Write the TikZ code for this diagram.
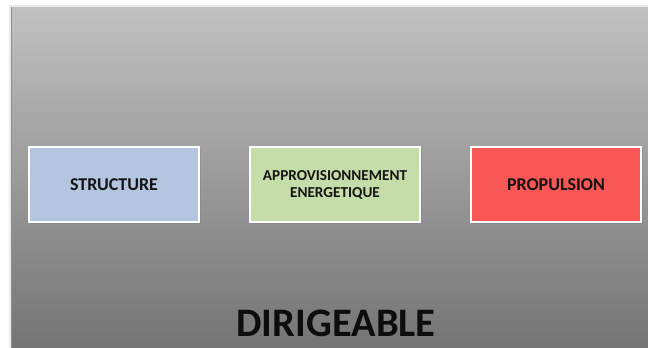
\documentclass[tikz,border=0pt]{standalone}
\usepackage{fontspec}
\setmainfont{Carlito}
\usetikzlibrary{shadows}
\begin{document}
\begin{tikzpicture}[x=1pt,y=-1pt,
  block/.style={draw=white, line width=1.6pt, minimum width=170pt, minimum height=75pt,
    align=center, text=black!92,
    drop shadow={shadow xshift=1.5pt, shadow yshift=-2pt, opacity=0.35}},
]
\definecolor{panelTop}{HTML}{C1C1C1}
\definecolor{panelBot}{HTML}{747474}
\definecolor{structFill}{HTML}{B3C5DF}
\definecolor{energyFill}{HTML}{C5DDA8}
\definecolor{propFill}{HTML}{F95656}
\useasboundingbox (0,0) rectangle (648,348);
\fill[white] (0,0) rectangle (648,348);
% grey panel with vertical gradient
\fill[black!8] (9,5) rectangle (648,348);
\shade[top color=panelTop, bottom color=panelBot] (11,7) rectangle (648,348);
\draw[black!45, line width=0.8pt] (11.4,7) -- (11.4,348);
% three subsystems
\node[block, fill=structFill, font=\bfseries\fontsize{18}{20}\selectfont] (structure) at (114,184.5) {STRUCTURE};
\node[block, fill=energyFill, font=\bfseries\fontsize{15.2}{17}\selectfont] (energie) at (335,184.5) {APPROVISIONNEMENT\\ENERGETIQUE};
\node[block, fill=propFill, font=\bfseries\fontsize{18}{20}\selectfont] (propulsion) at (556,184.5) {PROPULSION};
% title
\node[font=\bfseries\fontsize{40.5}{44}\selectfont, text=black!95] (titre) at (336,323) {DIRIGEABLE};
\end{tikzpicture}
\end{document}
